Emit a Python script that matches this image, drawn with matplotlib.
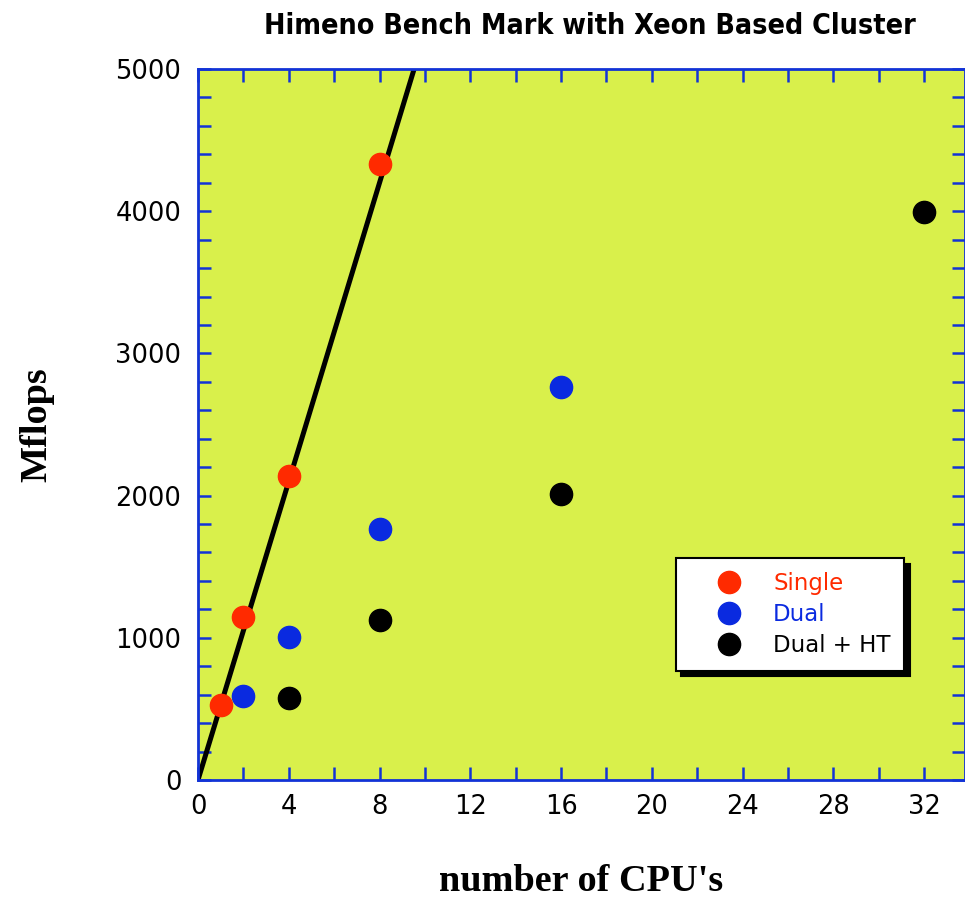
import matplotlib.pyplot as plt
import numpy as np
from matplotlib.ticker import MultipleLocator

# данные
cpu_single = [1, 2, 4, 8]
mflops_single = [525, 1148, 2140, 4330]
cpu_dual = [2, 4, 8, 16]
mflops_dual = [592, 1008, 1767, 2767]
cpu_ht = [4, 8, 16, 32]
mflops_ht = [578, 1125, 2013, 3995]
ideal_per_cpu = 525  # наклон линии идеального масштабирования

bg = '#d9f04b'
spine_col = '#1233d6'

fig = plt.figure(figsize=(9.65, 9.0), dpi=100)
ax = fig.add_axes([198 / 965, 1 - 780 / 900, 767 / 965, 711 / 900])
ax.set_facecolor(bg)

xl = np.array([0, 34])
ax.plot(xl, ideal_per_cpu * xl, color='black', lw=3.6, zorder=2, solid_capstyle='butt')

ax.plot(cpu_single, mflops_single, 'o', ms=16, color='#ff2a00', label='Single', zorder=3)
ax.plot(cpu_dual, mflops_dual, 'o', ms=16, color='#0a2ae0', label='Dual', zorder=3)
ax.plot(cpu_ht, mflops_ht, 'o', ms=16, color='black', label='Dual + HT', zorder=3)

ax.set_xlim(0, 33.8)
ax.set_ylim(0, 5000)
ax.xaxis.set_major_locator(MultipleLocator(4))
ax.xaxis.set_minor_locator(MultipleLocator(2))
ax.yaxis.set_major_locator(MultipleLocator(1000))
ax.yaxis.set_minor_locator(MultipleLocator(200))
for s in ax.spines.values():
    s.set_color(spine_col)
    s.set_linewidth(2)
ax.tick_params(which='both', direction='in', length=9.5, width=1.8, color=spine_col,
               top=True, right=True, labelsize=18.5, labelcolor='black')
ax.tick_params(axis='x', pad=10)
ax.tick_params(axis='y', pad=12)

ax.set_title('Himeno Bench Mark with Xeon Based Cluster', fontsize=20.5,
             family='DejaVu Sans', fontstretch='condensed', fontweight='bold',
             x=0.511, pad=25)
ax.set_xlabel("number of CPU's", family=['Liberation Serif', 'DejaVu Serif'],
              fontweight='bold', fontsize=27.5, labelpad=32)
ax.set_ylabel('Mflops', family=['Liberation Serif', 'DejaVu Serif'],
              fontweight='bold', fontsize=27.5, labelpad=44)

leg = ax.legend(loc='lower left', bbox_to_anchor=(0.623, 0.154), fontsize=16.5,
                labelcolor='markerfacecolor', fancybox=False, framealpha=1,
                edgecolor='black', borderpad=0.6, handletextpad=0.25, labelspacing=0.35,
                borderaxespad=0, handlelength=3.4,
                shadow={'ox': 4, 'oy': -4, 'color': 'black', 'alpha': 1})
leg.get_frame().set_linewidth(1.5)

plt.savefig('out.png', dpi=100)
